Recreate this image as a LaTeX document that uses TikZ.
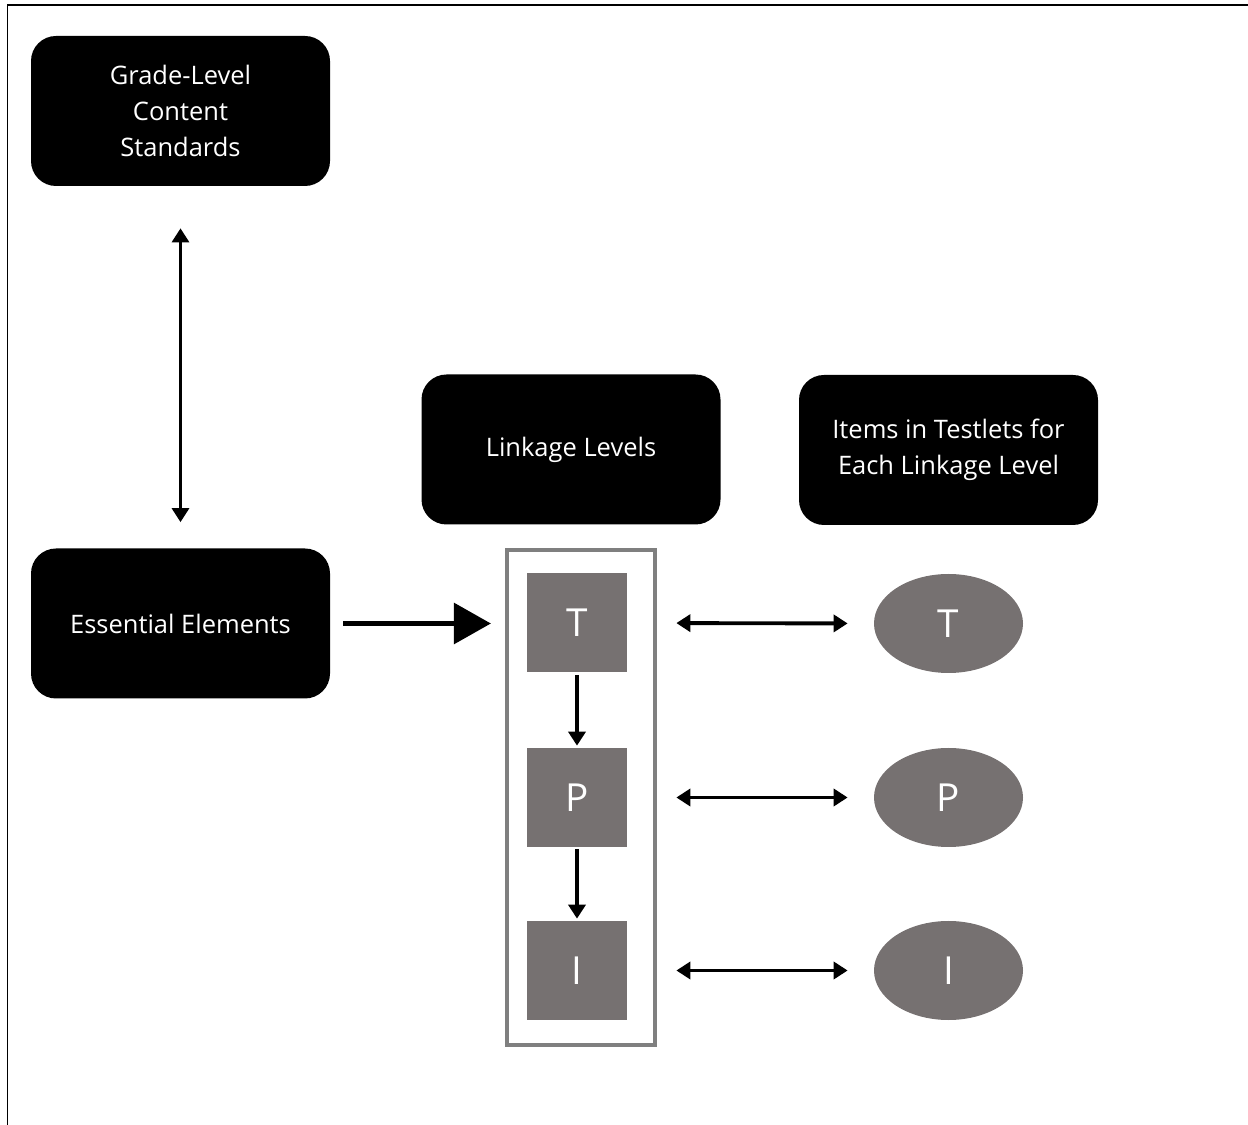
\documentclass[tikz,border=0pt]{standalone}
\usepackage{fontspec}
\setmainfont{Open Sans}
\definecolor{levelgray}{HTML}{767171}
\definecolor{framegray}{HTML}{7F7F7F}
\usepackage{tikz}
\usetikzlibrary{
  positioning, arrows.meta, shapes.geometric
}
\tikzset{
	blackbox/.style={draw=none, fill=black, rounded corners=0.5cm, text=white,
			minimum width=5.98cm, minimum height=3cm, align=center,
			font=\fontsize{14.5}{20.4}\selectfont}
}
\tikzset{
	levelsquare/.style={fill=levelgray, text=white, minimum width=2cm, minimum height=1.98cm,
			inner sep=0pt, font=\fontsize{22}{24}\selectfont}
}
\tikzset{
	levelellipse/.style={ellipse, fill=levelgray, text=white, minimum width=2.98cm, minimum height=1.98cm,
			inner sep=0pt, font=\fontsize{22}{24}\selectfont}
}
\tikzset{
	twoway/.style={line width=2.2pt, {Triangle[length=0.28cm, width=0.34cm]}-{Triangle[length=0.28cm, width=0.34cm]}}
}
\tikzset{
	downarrow/.style={line width=2.2pt, -{Triangle[length=0.28cm, width=0.34cm]}}
}

\begin{document}
\begin{tikzpicture}
\useasboundingbox (0,0) rectangle (24.96,-22.5);
\draw[line width=1.1pt] (0.15,-22.5) -- (0.15,-0.1) -- (24.96,-0.1);

\coordinate (cGrade) at (3.61,-2.22);
\coordinate (cEss) at (3.61,-12.47);
\coordinate (cLink) at (11.42,-8.99);
\coordinate (cItems) at (18.97,-9.0);
\coordinate (cT) at (11.54,-12.46);
\coordinate (cP) at (11.54,-15.95);
\coordinate (cI) at (11.54,-19.41);

\node[blackbox] (grade) at (cGrade) {Grade-Level\\Content\\Standards};
\node[blackbox] (ess) at (cEss) {Essential Elements};
\node[blackbox] (link) at (cLink) {Linkage Levels};
\node[blackbox] (items) at (cItems) {Items in Testlets for\\Each Linkage Level};

\node[draw=framegray, line width=2.3pt, minimum width=2.96cm, minimum height=9.9cm] (llbox) at (11.62,-15.95) {};

\node[levelsquare] (sqT) at (cT) {T};
\node[levelsquare] (sqP) at (cP) {P};
\node[levelsquare] (sqI) at (cI) {I};

\node[levelellipse] (elT) at (18.97,-12.47) {T};
\node[levelellipse] (elP) at (18.97,-15.95) {P};
\node[levelellipse] (elI) at (18.97,-19.41) {I};

\draw[twoway, line width=1.8pt, shorten <=0.84cm, shorten >=0.52cm] (grade.south) -- (ess.north);
\draw[line width=3.4pt, -{Triangle[length=0.74cm, width=0.8cm]}, shorten <=0.26cm, shorten >=0.28cm] (ess.east) -- (ess.east -| llbox.west);

\draw[downarrow, shorten <=0.04cm, shorten >=0.04cm] (sqT.south) -- (sqP.north);
\draw[downarrow, shorten <=0.04cm, shorten >=0.04cm] (sqP.south) -- (sqI.north);

\draw[twoway, shorten <=0.98cm, shorten >=0.52cm] (sqT.east) -- (elT.west);
\draw[twoway, shorten <=0.98cm, shorten >=0.52cm] (sqP.east) -- (elP.west);
\draw[twoway, shorten <=0.98cm, shorten >=0.52cm] (sqI.east) -- (elI.west);

\end{tikzpicture}
\end{document}
